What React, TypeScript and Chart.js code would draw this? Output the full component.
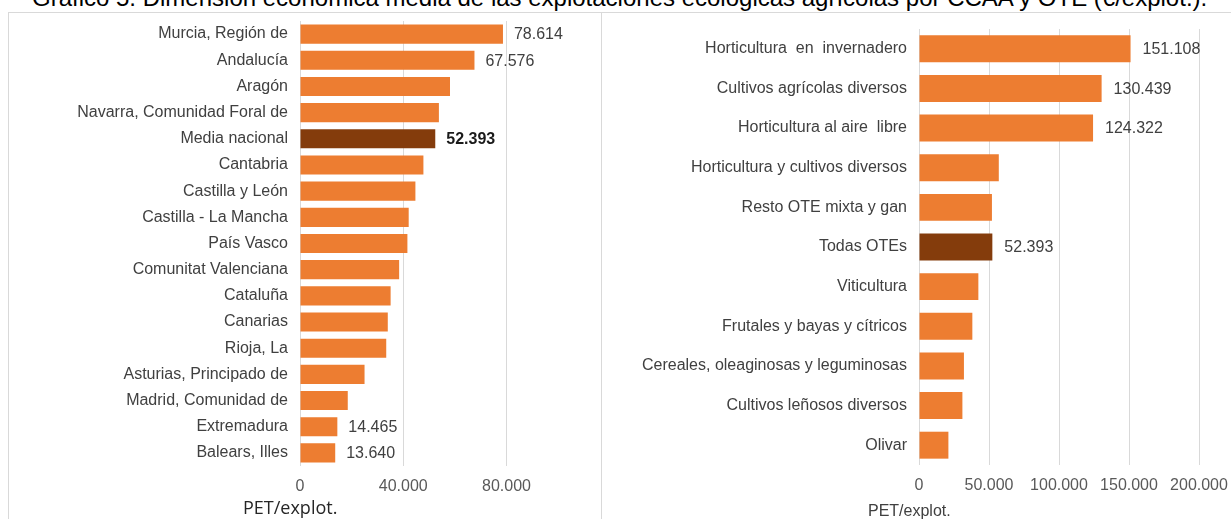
import React, { useEffect, useRef } from 'react';
import { Chart, registerables } from 'chart.js';

Chart.register(...registerables);

// ---------- Data ----------
const leftCategories = [
  'Murcia, Región de',
  'Andalucía',
  'Aragón',
  'Navarra, Comunidad Foral de',
  'Media nacional',
  'Cantabria',
  'Castilla y León',
  'Castilla - La Mancha',
  'País Vasco',
  'Comunitat Valenciana',
  'Cataluña',
  'Canarias',
  'Rioja, La',
  'Asturias, Principado de',
  'Madrid, Comunidad de',
  'Extremadura',
  'Balears, Illes',
];
const leftValues = [
  78614, 67576, 58100, 53800, 52393, 47800, 44700, 42100, 41600, 38400, 35100,
  34000, 33400, 25000, 18500, 14465, 13640,
];
const leftLabelledIdx = [0, 1, 4, 15, 16];
const leftBoldIdx = [4];
const leftHighlightIdx = 4;
const leftTicks = [0, 40000, 80000];
const leftAxisTitle = 'PET/explot.';

const rightCategories = [
  'Horticultura  en  invernadero',
  'Cultivos agrícolas diversos',
  'Horticultura al aire  libre',
  'Horticultura y cultivos diversos',
  'Resto OTE mixta y gan',
  'Todas OTEs',
  'Viticultura',
  'Frutales y bayas y cítricos',
  'Cereales, oleaginosas y leguminosas',
  'Cultivos leñosos diversos',
  'Olivar',
];
const rightValues = [
  151108, 130439, 124322, 57000, 52100, 52393, 42400, 38100, 32100, 31000, 21000,
];
const rightLabelledIdx = [0, 1, 2, 5];
const rightBoldIdx: number[] = [];
const rightHighlightIdx = 5;
const rightTicks = [0, 50000, 100000, 150000, 200000];
const rightAxisTitle = 'PET/explot.';

const titleText =
  'Gráfico 5. Dimensión económica media de las explotaciones ecológicas agrícolas por CCAA y OTE (€/explot.).';

// ---------- Helpers ----------
const ORANGE = '#ED7D31';
const DARK = '#843C0C';
const FONT = "'Liberation Sans', Arial, sans-serif";

function fmt(v: number): string {
  const s = Math.round(v).toString();
  return s.replace(/\B(?=(\d{3})+(?!\d))/g, '.');
}

const valueLabelPlugin = {
  id: 'valueLabels',
  afterDatasetsDraw(chart: any, _args: any, opts: any) {
    const { ctx } = chart;
    const meta = chart.getDatasetMeta(0);
    const data = chart.data.datasets[0].data as number[];
    (opts.indices || []).forEach((i: number) => {
      const el = meta.data[i];
      if (!el) return;
      const bold = (opts.bold || []).includes(i);
      ctx.save();
      ctx.font = `${bold ? 'bold ' : ''}16px ${FONT}`;
      ctx.fillStyle = bold ? '#1a1a1a' : '#404040';
      ctx.textBaseline = 'middle';
      ctx.textAlign = 'left';
      ctx.fillText(fmt(data[i]), el.x + opts.offset, el.y + 1);
      ctx.restore();
    });
  },
};

type PanelProps = {
  categories: string[];
  values: number[];
  labelled: number[];
  bold: number[];
  highlight: number;
  ticks: number[];
  max: number;
  width: number;
  height: number;
  yWidth: number;
  xHeight: number;
  padTop: number;
  padRight: number;
  barPct: number;
  labelOffset: number;
  style: React.CSSProperties;
};

function BarPanel(p: PanelProps) {
  const ref = useRef<HTMLCanvasElement | null>(null);
  useEffect(() => {
    if (!ref.current) return;
    const chart = new Chart(ref.current, {
      type: 'bar',
      data: {
        labels: p.categories,
        datasets: [
          {
            data: p.values,
            backgroundColor: p.values.map((_, i) => (i === p.highlight ? DARK : ORANGE)),
            borderWidth: 0,
            categoryPercentage: 1,
            barPercentage: p.barPct,
          },
        ],
      },
      options: {
        indexAxis: 'y',
        responsive: false,
        animation: false,
        devicePixelRatio: 1,
        layout: { padding: { top: p.padTop, right: p.padRight, left: 0, bottom: 0 } },
        plugins: {
          legend: { display: false },
          tooltip: { enabled: false },
          title: { display: false },
          valueLabels: { indices: p.labelled, bold: p.bold, offset: p.labelOffset },
        } as any,
        scales: {
          x: {
            type: 'linear',
            min: 0,
            max: p.max,
            grid: { color: '#d9d9d9', drawTicks: false, lineWidth: 1 },
            border: { display: false },
            ticks: {
              color: '#595959',
              font: { family: FONT, size: 16 },
              padding: 11,
              callback: (v: any) => fmt(Number(v)),
            },
            afterBuildTicks: (s: any) => {
              s.ticks = p.ticks.map((v) => ({ value: v }));
            },
            afterFit: (s: any) => {
              s.height = p.xHeight;
              s.paddingLeft = 0;
              s.paddingRight = 0;
            },
          },
          y: {
            grid: { display: false, drawTicks: false },
            border: { display: false },
            ticks: {
              color: '#404040',
              font: { family: FONT, size: 16 },
              padding: 12,
              autoSkip: false,
            },
            afterFit: (s: any) => {
              s.width = p.yWidth;
              s.paddingTop = 0;
              s.paddingBottom = 0;
            },
          },
        },
      },
      plugins: [valueLabelPlugin as any],
    });
    return () => chart.destroy();
  }, []);
  return (
    <canvas
      ref={ref}
      width={p.width}
      height={p.height}
      style={{ position: 'absolute', width: p.width, height: p.height, ...p.style }}
    />
  );
}

export default function App() {
  const line = '#d9d9d9';
  return (
    <div
      style={{
        position: 'absolute',
        left: 0,
        top: 0,
        width: 1231,
        height: 519,
        overflow: 'hidden',
        background: '#ffffff',
      }}
    >
      <div
        style={{
          position: 'absolute',
          left: 32,
          top: -14,
          fontFamily: FONT,
          fontSize: 24,
          lineHeight: '23px',
          whiteSpace: 'pre',
          color: '#000',
        }}
      >
        {titleText}
      </div>
      {/* panel borders */}
      <div style={{ position: 'absolute', left: 8, top: 12, width: 1223, height: 1, background: line }} />
      <div style={{ position: 'absolute', left: 8, top: 12, width: 1, height: 507, background: line }} />
      <div style={{ position: 'absolute', left: 601, top: 12, width: 1, height: 507, background: line }} />

      <BarPanel
        categories={leftCategories}
        values={leftValues}
        labelled={leftLabelledIdx}
        bold={leftBoldIdx}
        highlight={leftHighlightIdx}
        ticks={leftTicks}
        max={110000}
        width={590}
        height={506}
        yWidth={291}
        xHeight={53}
        padTop={8}
        padRight={15}
        barPct={0.73}
        labelOffset={11}
        style={{ left: 9, top: 13 }}
      />
      <BarPanel
        categories={rightCategories}
        values={rightValues}
        labelled={rightLabelledIdx}
        bold={rightBoldIdx}
        highlight={rightHighlightIdx}
        ticks={rightTicks}
        max={200000}
        width={621}
        height={506}
        yWidth={309}
        xHeight={54}
        padTop={16}
        padRight={32}
        barPct={0.68}
        labelOffset={12}
        style={{ left: 610, top: 13 }}
      />

      <div
        style={{
          position: 'absolute',
          left: 243,
          top: 497,
          fontFamily: "'Open Sans', sans-serif",
          fontSize: 18,
          lineHeight: '20px',
          color: '#262626',
          whiteSpace: 'pre',
        }}
      >
        {leftAxisTitle}
      </div>
      <div
        style={{
          position: 'absolute',
          left: 868,
          top: 502,
          fontFamily: FONT,
          fontSize: 16,
          lineHeight: '18px',
          color: '#404040',
          whiteSpace: 'pre',
        }}
      >
        {rightAxisTitle}
      </div>
    </div>
  );
}
